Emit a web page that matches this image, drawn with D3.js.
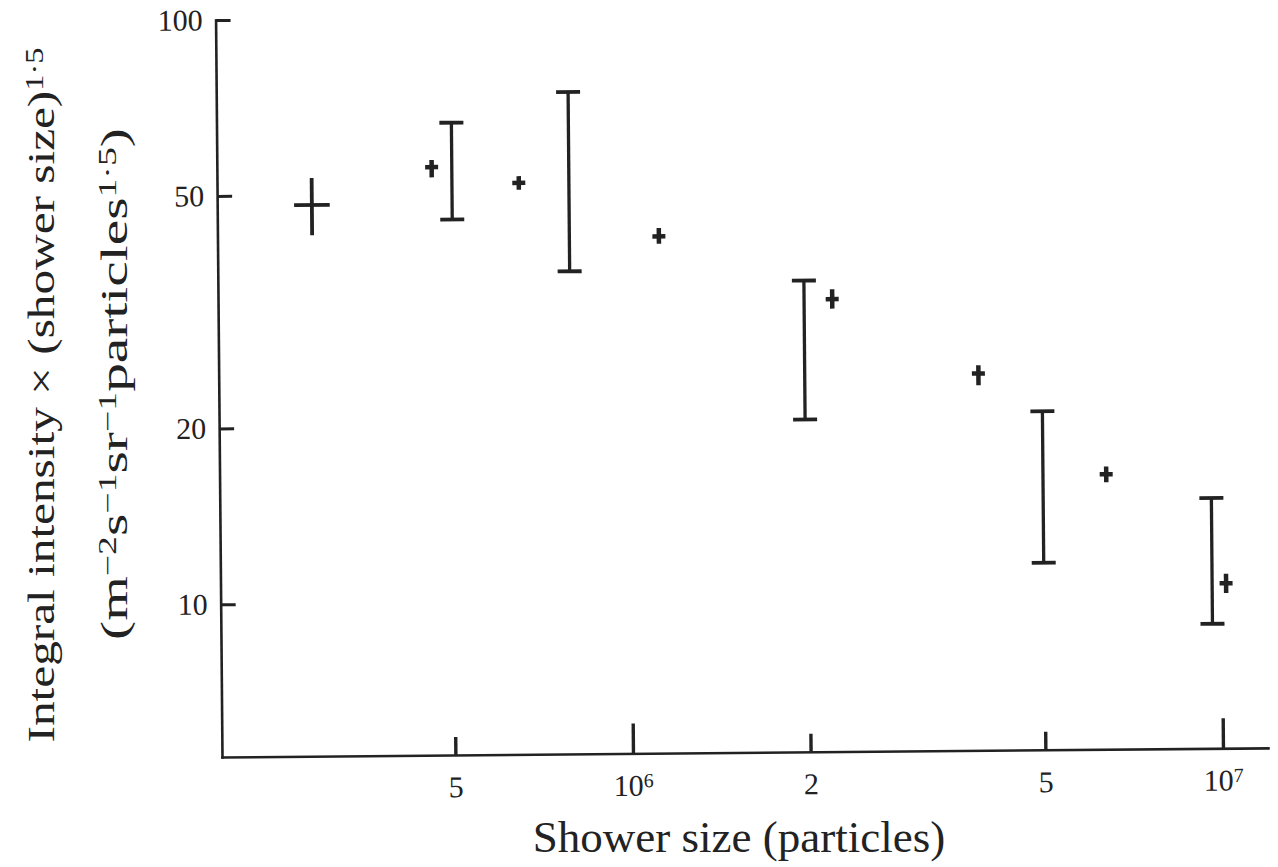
<!DOCTYPE html>
<html>
<head>
<meta charset="utf-8">
<script src="https://cdn.jsdelivr.net/npm/d3@7"></script>
<style>
  body { margin: 0; background: #fff; }
  svg text { font-family: "Liberation Serif", "Times New Roman", serif; fill: #222; }
</style>
</head>
<body>
<svg id="chart" width="1278" height="867"></svg>
<script>
// Integral intensity × (shower size)^1.5 versus shower size (particles)

// Point with errors on both coordinates
const crossSize = [2.91e5];
const crossSizeLo = [2.715e5];
const crossSizeHi = [3.12e5];
const crossIntensity = [48.1];
const crossIntensityLo = [42.7];
const crossIntensityHi = [53.5];

// Points with small statistical errors
const pointSize = [4.65e5, 6.53e5, 1.126e6, 2.21e6, 3.90e6, 6.40e6, 1.018e7];
const pointIntensity = [55.6, 52.1, 42.0, 32.6, 24.2, 16.2, 10.5];
const pointIntensityLo = [53.4, 50.7, 40.8, 31.4, 23.1, 15.7, 10.1];
const pointIntensityHi = [57.2, 53.5, 43.4, 33.9, 25.0, 16.7, 10.9];

// Ranges drawn as capped bars
const rangeSize = [5.03e5, 7.94e5, 1.98e6, 5.0e6, 9.64e6];
const rangeLo = [45.2, 36.7, 20.3, 11.45, 8.95];
const rangeHi = [66.2, 74.4, 35.1, 20.8, 14.7];

// Axis ticks
const xTicks = [5e5, 1e6, 2e6, 5e6, 1e7];
const xTickBase = ["5", "10", "2", "5", "10"];
const xTickExp = ["", "6", "", "", "7"];
const yTicks = [10, 20, 50, 100];
const yTickLabels = ["10", "20", "50", "100"];

const xDomain = [2.011e5, 1.192e7];
const yDomain = [5.48, 100];

// ---- layout ----
const margin = { left: 222, top: 20 };
const plotW = 1046, plotH = 737;
const tilt = -0.5;
const ink = "#222";

const svg = d3.select("#chart");
const g = svg.append("g")
  .attr("transform", `rotate(${tilt} ${margin.left} ${margin.top + plotH}) translate(${margin.left},${margin.top})`);

const x = d3.scaleLog().domain(xDomain).range([0, plotW]);
const y = d3.scaleLog().domain(yDomain).range([plotH, 0]);

// x axis: ticks point into the plot, decades longer
const gx = g.append("g")
  .attr("transform", `translate(0,${plotH})`)
  .call(d3.axisBottom(x)
    .tickValues(xTicks)
    .tickSizeInner(-18)
    .tickSizeOuter(0)
    .tickPadding(21)
    .tickFormat((d, i) => xTickBase[i]));
gx.attr("font-family", null).attr("font-size", null);
gx.select(".domain").attr("stroke", ink).attr("stroke-width", 2.6).attr("stroke-linecap", "square");
gx.selectAll(".tick line")
  .attr("stroke", ink).attr("stroke-width", 3.4)
  .attr("y2", (d, i) => xTickExp[i] ? -30 : -18);
gx.selectAll(".tick text")
  .style("font-size", "30px").attr("fill", ink)
  .each(function (d, i) {
    if (xTickExp[i]) {
      d3.select(this).append("tspan")
        .attr("dy", "-0.42em").style("font-size", "20px").text(xTickExp[i]);
    }
  });

// y axis: ticks point right, labels on the left
const gy = g.append("g")
  .call(d3.axisLeft(y)
    .tickValues(yTicks)
    .tickSizeInner(-15)
    .tickSizeOuter(0)
    .tickPadding(13)
    .tickFormat((d, i) => yTickLabels[i]));
gy.attr("font-family", null).attr("font-size", null);
gy.select(".domain").attr("stroke", ink).attr("stroke-width", 2.6).attr("stroke-linecap", "square");
gy.selectAll(".tick line").attr("stroke", ink).attr("stroke-width", 3);
gy.selectAll(".tick text").style("font-size", "30px").attr("fill", ink);

// capped range bars
const ranges = rangeSize.map((s, i) => ({ s, lo: rangeLo[i], hi: rangeHi[i] }));
const capHalf = 12;
const rg = g.append("g").attr("stroke", ink).attr("stroke-width", 3.3);
rg.selectAll("line.stem").data(ranges).join("line").attr("class", "stem")
  .attr("x1", d => x(d.s)).attr("x2", d => x(d.s))
  .attr("y1", d => y(d.lo)).attr("y2", d => y(d.hi));
rg.selectAll("line.capTop").data(ranges).join("line").attr("class", "capTop")
  .attr("x1", d => x(d.s) - capHalf).attr("x2", d => x(d.s) + capHalf)
  .attr("y1", d => y(d.hi)).attr("y2", d => y(d.hi)).attr("stroke-width", 3.8);
rg.selectAll("line.capBot").data(ranges).join("line").attr("class", "capBot")
  .attr("x1", d => x(d.s) - capHalf).attr("x2", d => x(d.s) + capHalf)
  .attr("y1", d => y(d.lo)).attr("y2", d => y(d.lo)).attr("stroke-width", 3.8);

// small plus markers
const points = pointSize.map((s, i) => ({ s, v: pointIntensity[i], lo: pointIntensityLo[i], hi: pointIntensityHi[i] }));
const armHalf = 6.5;
const pg = g.append("g").attr("stroke", ink);
pg.selectAll("line.pv").data(points).join("line").attr("class", "pv")
  .attr("stroke-width", 4.5)
  .attr("x1", d => x(d.s)).attr("x2", d => x(d.s))
  .attr("y1", d => y(d.lo)).attr("y2", d => y(d.hi));
pg.selectAll("line.ph").data(points).join("line").attr("class", "ph")
  .attr("stroke-width", 4.5)
  .attr("x1", d => x(d.s) - armHalf).attr("x2", d => x(d.s) + armHalf)
  .attr("y1", d => y(d.v)).attr("y2", d => y(d.v));

// cross with errors on both axes
const crosses = crossSize.map((s, i) => ({
  s, sLo: crossSizeLo[i], sHi: crossSizeHi[i],
  v: crossIntensity[i], lo: crossIntensityLo[i], hi: crossIntensityHi[i]
}));
const cg = g.append("g").attr("stroke", ink).attr("stroke-width", 3.8);
cg.selectAll("line.ch").data(crosses).join("line").attr("class", "ch")
  .attr("x1", d => x(d.sLo)).attr("x2", d => x(d.sHi))
  .attr("y1", d => y(d.v)).attr("y2", d => y(d.v));
cg.selectAll("line.cv").data(crosses).join("line").attr("class", "cv")
  .attr("x1", d => x(d.s)).attr("x2", d => x(d.s))
  .attr("y1", d => y(d.lo)).attr("y2", d => y(d.hi));

// axis titles
svg.append("text")
  .attr("x", 739).attr("y", 852)
  .attr("text-anchor", "middle")
  .style("font-size", "45px")
  .text("Shower size (particles)");

function rotatedTitle(cx, cy, parts, fontSize, targetLen) {
  const t = svg.append("text")
    .attr("text-anchor", "middle")
    .style("font-size", fontSize + "px");
  parts.forEach(p => {
    const ts = t.append("tspan").text(p.t);
    if (p.sup) ts.attr("baseline-shift", "0.45em").style("font-size", Math.round(fontSize * 0.66) + "px");
  });
  const w = t.node().getComputedTextLength();
  t.attr("transform", `translate(${cx},${cy}) rotate(-90) scale(${targetLen / w},1)`);
  return t;
}

rotatedTitle(54, 395, [
  { t: "Integral intensity × (shower size)" },
  { t: "1·5", sup: true }
], 38, 695);

rotatedTitle(127, 384, [
  { t: "(m" }, { t: "−2", sup: true },
  { t: "s" }, { t: "−1", sup: true },
  { t: "sr" }, { t: "−1", sup: true },
  { t: "particles" }, { t: "1·5", sup: true },
  { t: ")" }
], 38, 512);
</script>
</body>
</html>
